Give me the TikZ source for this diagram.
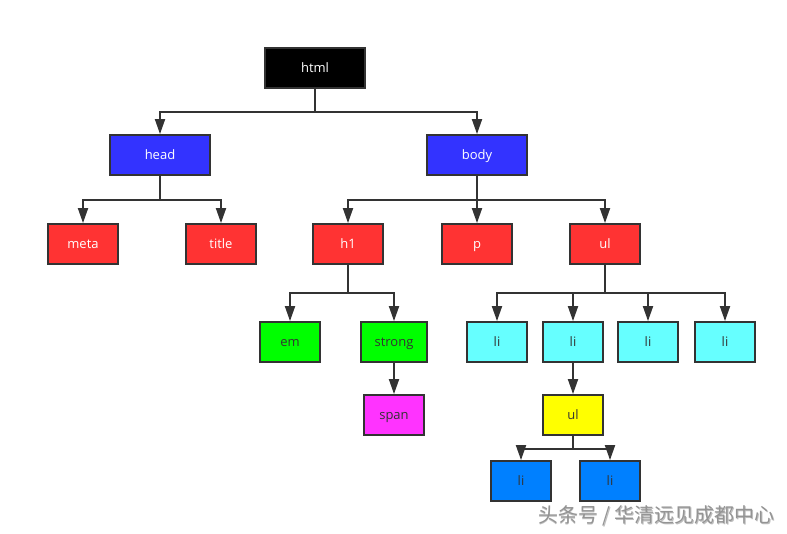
\documentclass[tikz,border=0pt]{standalone}
\usepackage{fontspec}
\setmainfont{Open Sans}
\newfontfamily\cjk{Noto Sans CJK SC}
\usetikzlibrary{arrows.meta}
\definecolor{edge}{HTML}{333333}
\definecolor{cblue}{HTML}{3333FF}
\definecolor{cred}{HTML}{FF3333}
\definecolor{cgreen}{HTML}{00FF00}
\definecolor{cmag}{HTML}{FF33FF}
\definecolor{ccyan}{HTML}{66FFFF}
\definecolor{cyel}{HTML}{FFFF00}
\definecolor{cblue2}{HTML}{0080FF}
\begin{document}
\begin{tikzpicture}[x=1pt,y=-1pt,
  box/.style={draw=edge,line width=1.8pt,minimum height=40pt,inner sep=0pt,text height=9pt,text depth=1pt,font=\fontsize{13}{15}\selectfont},
  wide/.style={box,minimum width=100pt},
  mid/.style={box,minimum width=70pt},
  small/.style={box,minimum width=60pt},
  wtext/.style={text=white},
  dtext/.style={text=edge},
  arr/.style={draw=edge,line width=1.8pt,-{Triangle[length=15pt,width=10pt]}}]
\useasboundingbox (0,0) rectangle (787,533);
\node[wide,fill=black,wtext] (html) at (315,68) {html};
\node[wide,fill=cblue,wtext] (head) at (160,155) {head};
\node[wide,fill=cblue,wtext] (body) at (477,155) {body};
\node[mid,fill=cred,wtext] (meta) at (83,244) {meta};
\node[mid,fill=cred,wtext] (title) at (221,244) {title};
\node[mid,fill=cred,wtext] (h1) at (348,244) {h1};
\node[mid,fill=cred,wtext] (p) at (477,244) {p};
\node[mid,fill=cred,wtext] (ul) at (605,244) {ul};
\node[small,fill=cgreen,dtext] (em) at (290,342) {em};
\node[small,minimum width=66pt,fill=cgreen,dtext] (strong) at (394,342) {strong};
\node[small,fill=cmag,dtext] (span) at (394,415) {span};
\node[small,fill=ccyan,dtext] (li1) at (497,342) {li};
\node[small,fill=ccyan,dtext] (li2) at (573,342) {li};
\node[small,fill=ccyan,dtext] (li3) at (648,342) {li};
\node[small,fill=ccyan,dtext] (li4) at (725,342) {li};
\node[small,fill=cyel,dtext] (ul2) at (573,415) {ul};
\node[small,fill=cblue2,dtext] (li5) at (521,481) {li};
\node[small,fill=cblue2,dtext] (li6) at (610,481) {li};
% connectors
\draw[arr] (html.south) -- ++(0,23) -| (head.north);
\draw[arr] (html.south) -- ++(0,23) -| (body.north);
\draw[arr] (head.south) -- ++(0,24) -| (meta.north);
\draw[arr] (head.south) -- ++(0,24) -| (title.north);
\draw[arr] (body.south) -- ++(0,24) -| (h1.north);
\draw[arr] (body.south) -- (p.north);
\draw[arr] (body.south) -- ++(0,24) -| (ul.north);
\draw[arr] (h1.south) -- ++(0,28) -| (em.north);
\draw[arr] (h1.south) -- ++(0,28) -| (strong.north);
\draw[arr] (strong.south) -- (span.north);
\draw[arr] (ul.south) -- ++(0,28) -| (li1.north);
\draw[arr] (ul.south) -- ++(0,28) -| (li2.north);
\draw[arr] (ul.south) -- ++(0,28) -| (li3.north);
\draw[arr] (ul.south) -- ++(0,28) -| (li4.north);
\draw[arr] (li2.south) -- (ul2.north);
\draw[arr] (ul2.south) -- ++(0,13) -| (li5.north);
\draw[arr] (ul2.south) -- ++(0,13) -| (li6.north);
% watermark
\node[anchor=east,inner sep=0pt,text=black!25,font=\cjk\fontsize{20}{22}\selectfont] (wm1) at (775.8,516.8) {头条号 / 华清远见成都中心};
\node[anchor=east,inner sep=0pt,text=black!42,font=\cjk\fontsize{20}{22}\selectfont] (wm) at (775,516) {头条号 / 华清远见成都中心};
\end{tikzpicture}
\end{document}
